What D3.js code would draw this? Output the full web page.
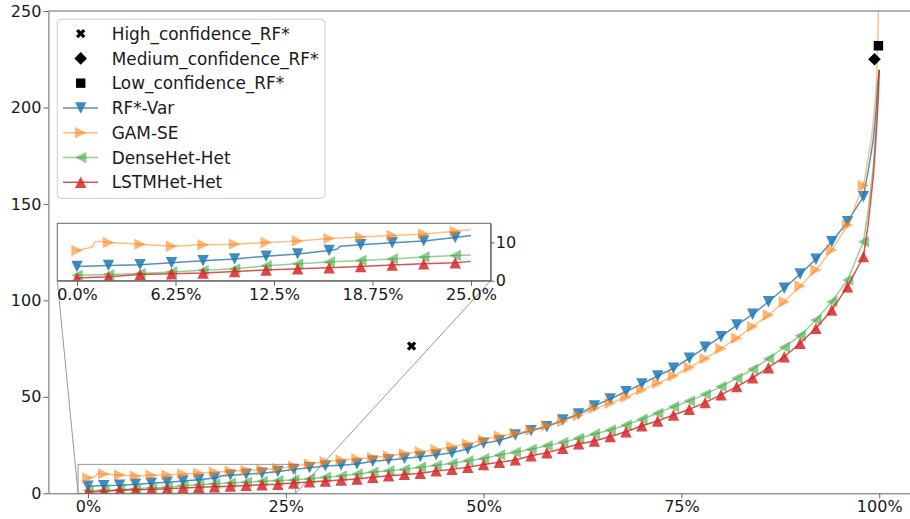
<!DOCTYPE html>
<html><head><meta charset="utf-8">
<script src="https://cdn.jsdelivr.net/npm/d3@7"></script>
<style>
body{margin:0;background:#fff}
svg{display:block}
text{font-family:"DejaVu Sans",sans-serif;fill:#1a1a1a}
</style>
</head><body>
<svg id="c" width="910" height="519"></svg>
<script>
// ---------- data (x in percent of samples, y = value) ----------
const pct = [0,2,4,6,8,10,12,14,16,18,20,22,24,26,28,30,32,34,36,38,40,42,44,46,48,
             50,52,54,56,58,60,62,64,66,68,70,72,74,76,78,80,82,84,86,88,90,92,94,96,98];

const rfVar = [3.7,4.0,4.2,4.7,5.2,5.7,6.4,7.0,7.9,9.4,9.9,10.4,11.3,12.4,13.3,14.2,14.6,15.2,16.6,17.3,18.1,19.0,19.9,21.0,23.0,
               26.0,27.3,30.2,32.5,34.5,38.0,41.1,45.3,48.9,52.7,56.7,60.8,64.8,70.0,75.7,81.2,87.2,92.8,99.3,106.3,113.7,121.3,130.4,140.8,153.8];
const gamSE = [7.9,10.0,9.5,9.0,9.4,9.55,10.0,10.4,11.0,11.4,11.8,12.2,12.9,14.0,15.2,16.4,17.3,17.9,18.5,19.3,20.5,21.6,22.6,24.2,25.6,
               27.6,29.7,31.1,32.8,35.0,37.3,40.4,44.1,46.7,49.8,53.6,57.0,60.8,65.2,69.8,75.0,80.4,86.4,92.4,99.3,107.5,115.8,126.1,139.1,159.5];
const denseHet = [1.4,1.6,1.9,2.3,2.7,3.1,3.9,4.4,4.9,5.3,5.7,6.2,6.6,6.9,7.6,8.3,9.0,10.0,11.0,11.7,12.4,13.5,14.5,15.5,16.9,
                  18.0,19.9,21.3,22.8,24.7,26.4,28.5,30.7,32.8,35.4,38.4,41.5,44.9,47.9,51.3,55.3,59.6,64.3,69.8,75.7,81.7,89.8,99.3,110.6,130.4];
const lstmHet = [0.7,1.0,1.6,1.8,2.0,2.4,2.8,3.1,3.4,3.7,4.1,4.4,4.7,5.3,5.9,6.4,6.9,7.4,8.3,9.1,9.8,10.4,11.6,12.4,13.5,
                 14.9,16.1,17.3,19.5,21.0,23.3,25.6,27.1,29.4,31.9,35.0,37.5,40.6,43.6,47.0,51.0,55.3,59.9,65.1,70.8,77.8,85.5,95.0,107.1,122.7];

// extra line points (between markers and the steep tail)
const rfVarExtra = [[16.5,8.2],[16.7,9.0],[25,11.8],[98.62,167.6],[99.25,183.2],[99.6,198.7],[99.81,212.5],[100,219.5]];
const gamSEExtra = [[0.99,8.8],[1.1,10.1],[1.4,10.3],[25,13.4],[98.42,169.3],[99.05,184.9],[99.47,202.2],[99.68,216],[99.81,233],[99.89,250.5],[100,265]];
const denseHetExtra = [[25,6.7],[98.62,146.9],[99.25,169.3],[99.6,190],[99.81,207.4],[100,219.5]];
const lstmHetExtra = [[25,5.05],[98.62,140],[99.25,164.1],[99.6,184.9],[99.89,205.6],[100,219.5]];

const highConf = [[40.9,76.3]];
const medConf = [[99.4,225]];
const lowConf = [[99.9,232]];

const xTicks = [0,25,50,75,100];
const xTickLabels = ["0%","25%","50%","75%","100%"];
const yTicks = [0,50,100,150,200,250];
const insetXTicks = [0,6.25,12.5,18.75,25];
const insetXTickLabels = ["0.0%","6.25%","12.5%","18.75%","25.0%"];
const insetYTicks = [0,10];

// ---------- styles ----------
const series = [
  {name:"RF*-Var", vals:rfVar, extra:rfVarExtra, color:"#1f77b4", lo:0.8, mo:0.85, shape:"tdown"},
  {name:"GAM-SE", vals:gamSE, extra:gamSEExtra, color:"#ff7f0e", lo:0.5, mo:0.58, shape:"tright"},
  {name:"DenseHet-Het", vals:denseHet, extra:denseHetExtra, color:"#2ca02c", lo:0.5, mo:0.55, shape:"tleft"},
  {name:"LSTMHet-Het", vals:lstmHet, extra:lstmHetExtra, color:"#d62728", lo:0.8, mo:0.85, shape:"tup"}
];
const scat = [
  {name:"High_confidence_RF*", pts:highConf, shape:"X"},
  {name:"Medium_confidence_RF*", pts:medConf, shape:"D"},
  {name:"Low_confidence_RF*", pts:lowConf, shape:"s"}
];

function markerPath(shape){
  const h = 5.7;
  switch(shape){
    case "tdown": return `M0,${h}L${-h},${-h}L${h},${-h}Z`;
    case "tup": return `M0,${-h}L${-h},${h}L${h},${h}Z`;
    case "tright": return `M${h},0L${-h},${-h}L${-h},${h}Z`;
    case "tleft": return `M${-h},0L${h},${-h}L${h},${h}Z`;
    case "D": { const d=6.3; return `M0,${-d}L${d},0L0,${d}L${-d},0Z`; }
    case "s": { const s=4.7; return `M${-s},${-s}H${s}V${s}H${-s}Z`; }
    case "X": {
      const e=5.0, t=1.6, c=Math.SQRT1_2;
      const p=[[-t,-e],[t,-e],[t,-t],[e,-t],[e,t],[t,t],[t,e],[-t,e],[-t,t],[-e,t],[-e,-t],[-t,-t]];
      return "M"+p.map(([a,b])=>[((a-b)*c).toFixed(2),((a+b)*c).toFixed(2)].join(",")).join("L")+"Z";
    }
  }
}

const svg = d3.select("#c");
const defs = svg.append("defs");

// ---------- main axes ----------
const x = d3.scaleLinear().domain([-5,105]).range([48.4,918.8]);
const y = d3.scaleLinear().domain([0,250]).range([493.3,11]);
const spine = "#666";

defs.append("clipPath").attr("id","mainClip").append("rect")
  .attr("x",x(-5)).attr("y",y(250)).attr("width",x(105)-x(-5)).attr("height",y(0)-y(250));

const main = svg.append("g");

// inset indicator rectangle + connectors (drawn under curves)
const ix0 = -1.25, ix1 = 26.25, iy0 = 0, iy1 = 15;
const xi = d3.scaleLinear().domain([ix0,ix1]).range([57.3,490.7]);
const yi = d3.scaleLinear().domain([iy0,iy1]).range([280.7,223.3]);

main.append("rect").attr("x",x(ix0)).attr("y",y(iy1)).attr("width",x(ix1)-x(ix0)).attr("height",y(iy0)-y(iy1))
  .attr("fill","none").attr("stroke","#999").attr("stroke-width",1);
main.append("line").attr("x1",xi(ix0)).attr("y1",yi(iy0)).attr("x2",x(ix0)).attr("y2",y(iy0))
  .attr("stroke","#999").attr("stroke-width",1);
main.append("line").attr("x1",xi(ix1)).attr("y1",yi(iy0)).attr("x2",x(ix1)).attr("y2",y(iy0))
  .attr("stroke","#999").attr("stroke-width",1);

const plotG = main.append("g").attr("clip-path","url(#mainClip)");

function linePts(s){
  return pct.map((p,i)=>[p,s.vals[i]]).concat(s.extra).sort((a,b)=>a[0]-b[0]);
}

function drawSeries(g, s, xs, ys, filter){
  const pts = linePts(s).filter(d=>filter(d[0]));
  g.append("path").datum(pts)
    .attr("d", d3.line().x(d=>xs(d[0])).y(d=>ys(d[1])))
    .attr("fill","none").attr("stroke",s.color).attr("stroke-opacity",s.lo).attr("stroke-width",1.5);
  const mk = pct.map((p,i)=>[p,s.vals[i]]).filter(d=>filter(d[0]));
  g.selectAll(null).data(mk).enter().append("path")
    .attr("d", markerPath(s.shape))
    .attr("transform", d=>`translate(${xs(d[0])},${ys(d[1])})`)
    .attr("fill", s.color).attr("fill-opacity", s.mo);
}

series.forEach(s=>drawSeries(plotG, s, x, y, ()=>true));

scat.forEach(sc=>{
  plotG.selectAll(null).data(sc.pts).enter().append("path")
    .attr("d", markerPath(sc.shape))
    .attr("transform", d=>`translate(${x(d[0])},${y(d[1])})`)
    .attr("fill","#000");
});

// axes
const xAxis = d3.axisBottom(x).tickValues(xTicks).tickFormat((d,i)=>xTickLabels[i]).tickSize(5).tickSizeOuter(0).tickPadding(2);
const yAxis = d3.axisLeft(y).tickValues(yTicks).tickSize(5).tickSizeOuter(0).tickPadding(2);
function styleAxis(g){
  g.selectAll("path.domain").attr("stroke",spine);
  g.selectAll(".tick line").attr("stroke",spine);
  g.selectAll(".tick text").attr("font-size","16px").attr("font-family","DejaVu Sans, sans-serif").attr("fill","#1a1a1a");
}
svg.append("g").attr("transform",`translate(0,${y(0)})`).call(xAxis).call(styleAxis);
svg.append("g").attr("transform",`translate(${x(-5)},0)`).call(yAxis).call(styleAxis);
svg.append("line").attr("x1",x(-5)).attr("x2",x(105)).attr("y1",y(250)).attr("y2",y(250)).attr("stroke",spine);
svg.append("line").attr("x1",x(105)).attr("x2",x(105)).attr("y1",y(250)).attr("y2",y(0)).attr("stroke",spine);

// ---------- inset ----------
defs.append("clipPath").attr("id","insetClip").append("rect")
  .attr("x",xi(ix0)).attr("y",yi(iy1)).attr("width",xi(ix1)-xi(ix0)).attr("height",yi(iy0)-yi(iy1));
const inset = svg.append("g");
inset.append("rect").attr("x",xi(ix0)).attr("y",yi(iy1)).attr("width",xi(ix1)-xi(ix0)).attr("height",yi(iy0)-yi(iy1))
  .attr("fill","#fff");
const insetPlot = inset.append("g").attr("clip-path","url(#insetClip)");
series.forEach(s=>drawSeries(insetPlot, s, xi, yi, p=>p<=25));
inset.append("rect").attr("x",xi(ix0)).attr("y",yi(iy1)).attr("width",xi(ix1)-xi(ix0)).attr("height",yi(iy0)-yi(iy1))
  .attr("fill","none").attr("stroke",spine);
const xiAxis = d3.axisBottom(xi).tickValues(insetXTicks).tickFormat((d,i)=>insetXTickLabels[i]).tickSize(5).tickSizeOuter(0).tickPadding(3);
const yiAxis = d3.axisRight(yi).tickValues(insetYTicks).tickSize(4).tickSizeOuter(0).tickPadding(1);
inset.append("g").attr("transform",`translate(0,${yi(iy0)})`).call(xiAxis).call(styleAxis);
inset.append("g").attr("transform",`translate(${xi(ix1)},0)`).call(yiAxis).call(styleAxis);

// ---------- legend ----------
const leg = svg.append("g");
leg.append("rect").attr("x",57.3).attr("y",19.3).attr("width",267.7).attr("height",179)
  .attr("rx",4).attr("ry",4).attr("fill","#fff").attr("fill-opacity",0.8).attr("stroke","#cccccc");
const rowH = 24.78, row0 = 33.6;
const items = scat.map(s=>({name:s.name, shape:s.shape, scatter:true}))
  .concat(series.map(s=>({name:s.name, shape:s.shape, color:s.color, lo:s.lo, mo:s.mo})));
items.forEach((it,i)=>{
  const cy = row0 + i*rowH;
  if(!it.scatter){
    leg.append("line").attr("x1",63).attr("x2",98).attr("y1",cy).attr("y2",cy)
      .attr("stroke",it.color).attr("stroke-opacity",it.lo).attr("stroke-width",1.5);
  }
  leg.append("path").attr("d",markerPath(it.shape)).attr("transform",`translate(80.7,${cy})`)
    .attr("fill", it.scatter ? "#000" : it.color).attr("fill-opacity", it.scatter ? 1 : it.mo);
  leg.append("text").attr("x",111.7).attr("y",cy+6.2).attr("font-size","16.9px").text(it.name);
});
</script>
</body></html>
